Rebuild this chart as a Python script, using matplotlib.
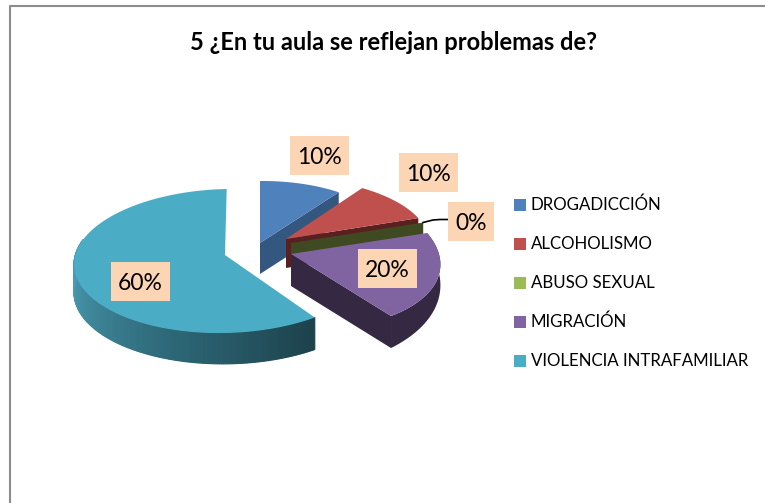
#!/usr/bin/env python3
"""Exploded 3D-look pie: ¿En tu aula se reflejan problemas de?"""

import numpy as np
import matplotlib
matplotlib.use("Agg")
import matplotlib.pyplot as plt
from matplotlib.patches import Rectangle

categories = ["DROGADICCIÓN", "ALCOHOLISMO", "ABUSO SEXUAL", "MIGRACIÓN", "VIOLENCIA INTRAFAMILIAR"]
values = [10, 10, 0, 20, 60]
value_labels = ["10%", "10%", "0%", "20%", "60%"]

TITLE = "5 ¿En tu aula se reflejan problemas de?"
TOP_COLORS = ["#4f81bd", "#c0504d", "#9bbb59", "#8064a2", "#4bacc6"]
WALL_COLORS = ["#34577f", "#5a1f1f", "#3f4a22", "#352842", None]
LABEL_BG = "#fcd5b5"
FRAME = "#8c8c8c"

# pixel geometry of each exploded slice: apex, ellipse centre, east and north axes, wall depth
GEOM = [
    dict(apex=(260, 243), c=(260, 243), a=(134, -1), b=(0, -62), depth=(31, 31)),
    dict(apex=(286, 239), c=(286, 239), a=(142, -2), b=(-9, -61.5), depth=(29, 29)),
    dict(apex=(291, 243), c=(291, 243), a=(139, -2), b=(0, -60), depth=(12, 12)),
    dict(apex=(291, 254), c=(289.5, 254), a=(150, 2.3), b=(-16.5, -75), depth=(15, 32)),
    dict(apex=(225, 255), c=(226, 261), a=(152, -3), b=(0.7, -72), depth=(32, 28)),
]
LABEL_BOXES = [(290, 136, 59, 39), (399, 153, 59, 39), (448, 202, 46, 39), (358, 249, 59, 39), (111, 262, 59, 39)]
LEGEND_Y = [205, 244, 283, 322, 361]

plt.rcParams["font.family"] = ["Lato", "DejaVu Sans"]


def rim(g, theta):
    """Point on a slice's outer rim; theta runs clockwise from 12 o'clock."""
    theta = np.asarray(theta)
    x = g["c"][0] + g["a"][0] * np.sin(theta) + g["b"][0] * np.cos(theta)
    y = g["c"][1] + g["a"][1] * np.sin(theta) + g["b"][1] * np.cos(theta)
    return x, y


def draw_cut(ax, g, theta, color, z):
    x, y = rim(g, theta)
    ax0, ay0 = g["apex"]
    d = g["depth"][1]
    ax.fill([ax0, x, x, ax0], [ay0, y, y + d, ay0 + d], color=color, lw=0, zorder=z)


def shade_teal(t):
    dark = np.array([0x1c, 0x41, 0x4b]) / 255
    mid = np.array([0x2f, 0x6c, 0x7c]) / 255
    light = np.array([0x4a, 0x9b, 0xb2]) / 255
    return dark + (mid - dark) * t / 0.5 if t < 0.5 else mid + (light - mid) * (t - 0.5) / 0.5


fig = plt.figure(figsize=(7.65, 5.03), dpi=100)
ax = fig.add_axes([0, 0, 1, 1])
ax.set_xlim(0, 765)
ax.set_ylim(503, 0)
ax.axis("off")

ax.plot([10, 10, 765], [503, 6, 6], color=FRAME, lw=1.5, zorder=1)

edges = np.radians(np.concatenate([[0], np.cumsum(values)]) * 3.6)

for i, g in enumerate(GEOM):
    z = 10 + i * 2
    t0, t1 = edges[i], edges[i + 1]
    ts = np.linspace(t0, t1, 120) if t1 > t0 else np.array([t0])
    x, y = rim(g, ts)
    if i == 4:
        # outer wall of the big slice, shaded from dark at the cut to light on the left
        vis = np.linspace(t0, np.radians(290), 180)
        for j in range(len(vis) - 1):
            pair = vis[j:j + 2]
            wx, wy = rim(g, pair)
            frac = (pair - t0) / (np.radians(270) - t0)
            d = g["depth"][0] + (g["depth"][1] - g["depth"][0]) * np.minimum(frac, 1)
            c = shade_teal(min(frac[0], 1))
            ax.fill(np.r_[wx, wx[::-1]], np.r_[wy, (wy + d)[::-1]], color=c, lw=0.8, zorder=z)
    else:
        draw_cut(ax, g, t1, WALL_COLORS[i], z)
        if i == 3:
            d = np.linspace(g["depth"][0], g["depth"][1], len(ts))
            ax.fill(np.r_[x, x[::-1]], np.r_[y, (y + d)[::-1]], color=WALL_COLORS[i], lw=0, zorder=z)
    if t1 > t0:
        ax.fill(np.r_[g["apex"][0], x], np.r_[g["apex"][1], y], color=TOP_COLORS[i], lw=0, zorder=z + 1)

# leader line of the 0% label
ax.plot([423, 433, 440, 448], [222.5, 220, 219.5, 219.5], color="black", lw=1.2, zorder=22)

for text, (bx, by, bw, bh) in zip(value_labels, LABEL_BOXES):
    ax.add_patch(Rectangle((bx, by), bw, bh, color=LABEL_BG, lw=0, zorder=30))
    ax.text(bx + bw / 2, by + bh / 2 + 2, text, ha="center", va="center", fontsize=16.5, color="black", zorder=31)

for name, color, ly in zip(categories, TOP_COLORS, LEGEND_Y):
    ax.add_patch(Rectangle((514, ly - 6), 12, 12, color=color, lw=0, zorder=5))
    ax.text(531, ly, name, ha="left", va="center", fontsize=12.2, color="black", zorder=5)

ax.text(393.5, 42, TITLE, ha="center", va="center", fontsize=17, fontweight="bold", color="black")

fig.savefig("out.png", dpi=100)
